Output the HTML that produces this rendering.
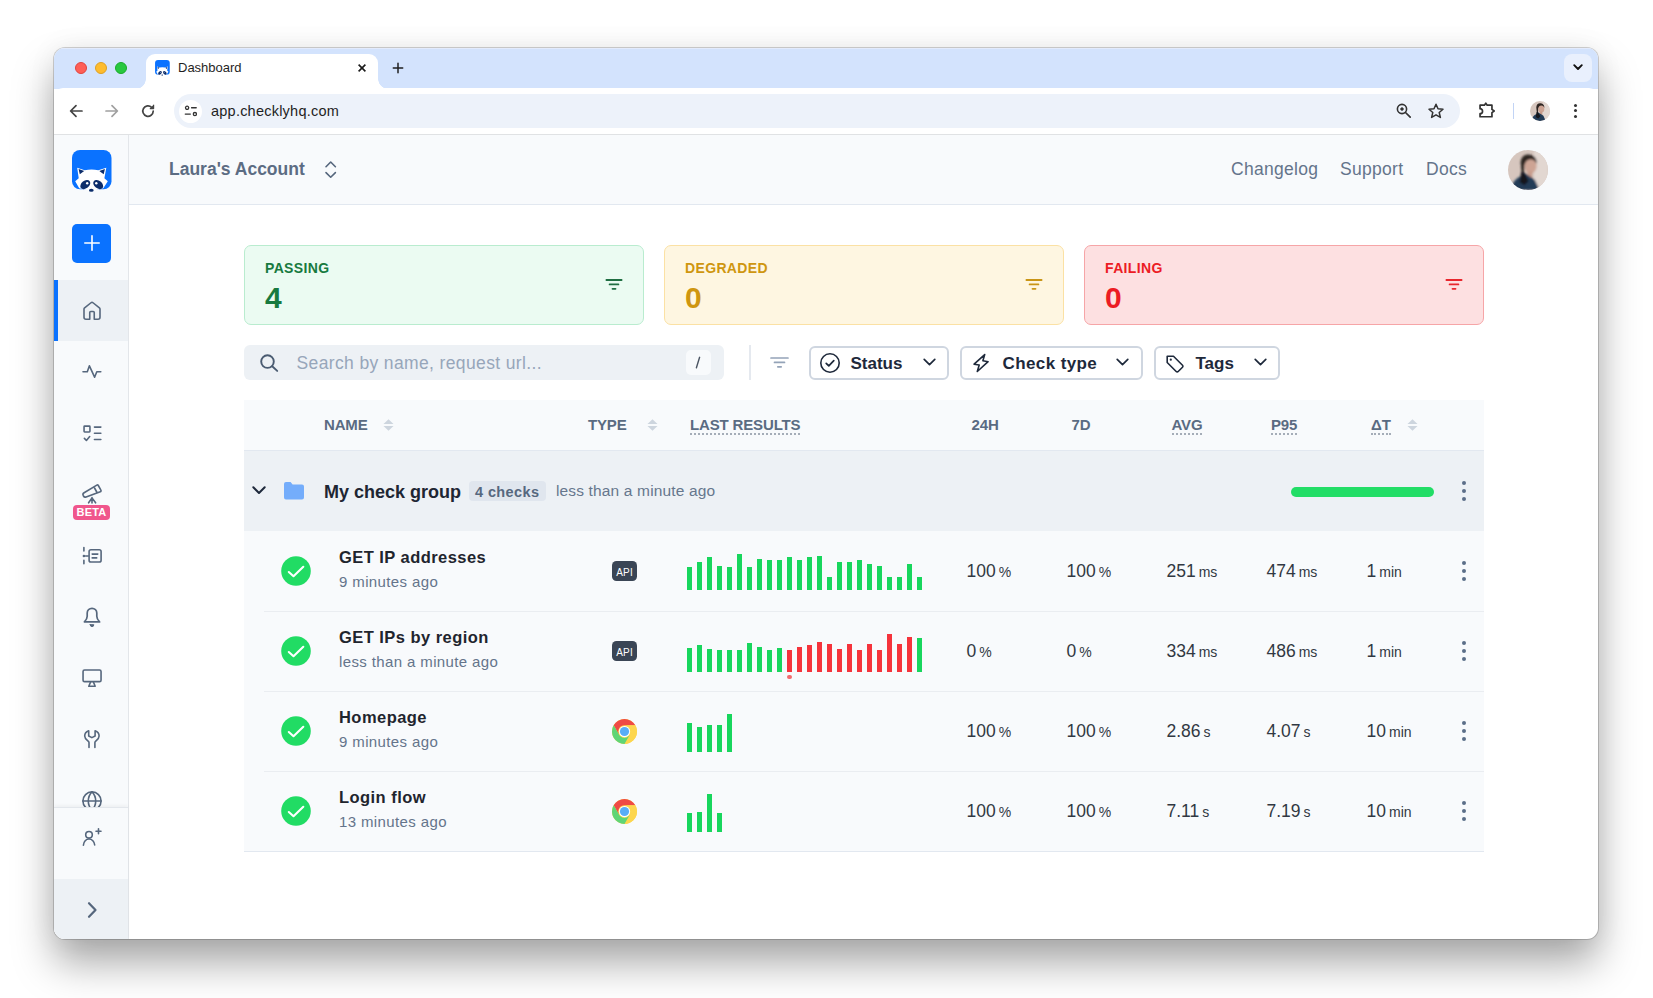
<!DOCTYPE html>
<html><head><meta charset="utf-8"><title>Dashboard</title>
<style>
*{box-sizing:border-box;margin:0;padding:0}
html,body{width:1653px;height:998px;overflow:hidden;background:#fff}
body{position:relative;font-family:"Liberation Sans",Arial,sans-serif;color:#1e293b}
.a{position:absolute}
svg{display:block}
#shadow{position:absolute;left:54px;top:48px;width:1544px;height:891px;border-radius:11px;box-shadow:0 24px 40px rgba(0,0,0,.34),0 0 30px rgba(0,0,0,.06),0 0 0 1px rgba(0,0,0,.17);background:#fff}
#win{position:absolute;left:0;top:0;width:1653px;height:998px;clip-path:inset(48px 55px 59px 54px round 11px)}
/* browser chrome */
#tabbar{left:54px;top:47px;width:1544px;height:42px;background:#d3e3fd}
#tab{left:146px;top:54px;width:232px;height:35px;background:#fff;border-radius:9px 9px 0 0}
#tab:before,#tab:after{content:"";position:absolute;bottom:0;width:10px;height:10px}
#tab:before{left:-10px;background:radial-gradient(circle at 0 0,transparent 9.5px,#fff 10px)}
#tab:after{right:-10px;background:radial-gradient(circle at 100% 0,transparent 9.5px,#fff 10px)}
#toolbar{left:54px;top:88px;width:1544px;height:47px;background:#fff;border-radius:9px 9px 0 0;border-bottom:1px solid #e0e2e4}
#url{left:174px;top:94px;width:1286px;height:34px;border-radius:17px;background:#edf2fa}
.tt{font-size:13px;color:#1f1f1f;white-space:nowrap}
/* app */
#side{left:54px;top:135px;width:75px;height:804px;background:#f8fafc;border-right:1px solid #e3e6ea}
#hdr{left:129px;top:135px;width:1469px;height:70px;background:#f8fafc;border-bottom:1px solid #e2e8f0}
.hl{font-size:17.5px;color:#64748b;white-space:nowrap;letter-spacing:.3px}
.card{width:400px;height:80px;top:245px;border-radius:7px;border:1px solid}
.card .lb{position:absolute;left:20px;top:14px;font-size:14px;font-weight:700;letter-spacing:.35px}
.card .nm{position:absolute;left:20px;top:35px;font-size:30px;font-weight:700}
.card svg{position:absolute;left:359px;top:32px}
.btn{top:345.5px;height:34px;border:2px solid #cfd6e0;border-radius:6px;background:#fff}
.btn .t{position:absolute;top:6px;font-size:17px;font-weight:700;color:#1e293b;white-space:nowrap}
.th{top:415.6px;font-size:15px;font-weight:700;color:#5a6b82;white-space:nowrap;letter-spacing:-.15px}
.dot{border-bottom:2px dotted #a5adb8;padding-bottom:0px}
.row{left:244px;width:1240px;height:80px;background:#f8fafc}
.sep{left:264px;width:1220px;height:1px;background:#eaedf1}
.nmx{font-size:16.5px;font-weight:700;color:#1f252e;white-space:nowrap;letter-spacing:.45px;margin-top:.5px}
.sub{font-size:15px;color:#64748b;white-space:nowrap;letter-spacing:.38px}
.v{font-size:17.5px;color:#313842;white-space:nowrap}
.v small{font-size:14px;margin-left:3px}
.kb{width:4px;height:4px;border-radius:2px;background:#5b6e88}
.bar{position:absolute;width:5px;bottom:0}
.sic{fill:none;stroke:#56677d;stroke-width:1.6;stroke-linecap:round;stroke-linejoin:round}
.g{background:#18d65d}.r{background:#f5333b}
</style></head>
<body>
<svg width="0" height="0" style="position:absolute">
  <defs>
    <filter id="bl" x="-20%" y="-20%" width="140%" height="140%"><feGaussianBlur stdDeviation="0.9"/></filter>
    <clipPath id="avc"><circle cx="20" cy="20" r="20"/></clipPath>
    <g id="av">
      <g clip-path="url(#avc)">
        <rect width="40" height="40" fill="#d6c6be"/>
        <g filter="url(#bl)">
          <rect x="26" y="0" width="14" height="40" fill="#e2d7d1"/>
          <path d="M12.6 13c0-5.5 3.3-8.6 7.6-8.6 4.6 0 8.3 3 8.5 7.6l-.3 1.5-3-3.2-6.5 1.2-2.3 3.5-.6 7.2-2.3 1.5z" fill="#2d2522"/>
          <ellipse cx="22.6" cy="16.2" rx="6" ry="7" fill="#cda494"/>
          <rect x="19.6" y="21" width="4.6" height="6.5" fill="#c79b8a"/>
          <path d="M2.5 40l2.5-6.8c1.8-3 4.5-5.4 7.3-6.6l4-3.8 6 3.9 4.5 3 2.9 6.3 1.3 4z" fill="#223a56"/>
          <path d="M13 22.5l2.6-1 5 9.5-4.2 4.2-4.6-3z" fill="#15171b"/>
        </g>
      </g>
    </g>
    <g id="logo">
    <rect x="0" y="0" width="39.5" height="39.3" rx="8" fill="#0a72ff"/>
    <path d="M5.2 17.7 L12.7 20.2 Q19.5 18.8 26.3 20.2 L34.3 17.7 L32.4 28.3 L35.8 31.3 L31.3 38.3 L22.3 40.3 L19.3 41.8 L16.2 40.3 L7.2 38.3 L3.2 31.3 L6.7 28.3 Z" fill="#fff"/>
    <path d="M6.6 19.1 L12.2 20.9 L7.8 24.3Z M32.9 19.1 L27.3 20.9 L31.7 24.3Z" fill="#0c2d6b"/>
    <ellipse cx="13.3" cy="34.6" rx="5.6" ry="3.8" transform="rotate(-38 13.3 34.6)" fill="#0c2d6b"/>
    <ellipse cx="26.2" cy="34.6" rx="5.6" ry="3.8" transform="rotate(38 26.2 34.6)" fill="#0c2d6b"/>
    <circle cx="15.2" cy="33.3" r="1.2" fill="#fff"/><circle cx="24.3" cy="33.3" r="1.2" fill="#fff"/>
    <ellipse cx="19.3" cy="40.2" rx="2.4" ry="1.5" fill="#0c2d6b"/>
  </g>
    <g id="chr">
      <circle cx="12" cy="12" r="12" fill="#fdd64e"/>
      <path d="M1.608 6A12 12 0 0 1 22.392 6L12 6A6 6 0 0 0 6.804 15Z" fill="#ef4a45"/>
      <path d="M1.608 6A12 12 0 0 1 22.392 6L12 6A6 6 0 0 0 6.804 15Z" fill="#fdd64e" transform="rotate(120 12 12)"/>
      <path d="M1.608 6A12 12 0 0 1 22.392 6L12 6A6 6 0 0 0 6.804 15Z" fill="#5fd576" transform="rotate(240 12 12)"/>
      <circle cx="12" cy="12" r="5.4" fill="#fff"/>
      <circle cx="12" cy="12" r="4.4" fill="#59adf7"/>
    </g>
  </defs>
</svg>
<div id="shadow"></div>
<div id="win">
  <!-- TAB BAR -->
  <div class="a" id="tabbar"></div>
  <div class="a" style="left:54px;top:48px;width:1544px;height:1px;background:#e3ebfd"></div>
  <div class="a" style="left:75px;top:62px;width:12px;height:12px;border-radius:6px;background:#ff5f57;border:.5px solid #e0443e"></div>
  <div class="a" style="left:95px;top:62px;width:12px;height:12px;border-radius:6px;background:#febc2e;border:.5px solid #dea123"></div>
  <div class="a" style="left:115px;top:62px;width:12px;height:12px;border-radius:6px;background:#28c840;border:.5px solid #1aab29"></div>
  <div class="a" id="tab"></div>
  <div class="a tt" style="left:178px;top:60px">Dashboard</div>
  <div class="a" style="left:1564px;top:54px;width:28px;height:28px;border-radius:8px;background:#e9f0fd"></div>
  <!-- TOOLBAR -->
  <div class="a" id="toolbar"></div>
  <div class="a" id="url"></div>
  <div class="a" style="left:179px;top:99.5px;width:23px;height:23px;border-radius:12px;background:#fff"></div>
  <div class="a" style="left:211px;top:102.7px;font-size:14.5px;color:#1f1f1f;white-space:nowrap;letter-spacing:.23px">app.checklyhq.com</div>

  <!-- SIDEBAR -->
  <div class="a" id="side"></div>
  <!-- HEADER -->
  <div class="a" id="hdr"></div>
  <div class="a" style="left:169px;top:159px;font-size:17.5px;font-weight:700;color:#5c6c83;white-space:nowrap">Laura's Account</div>
  <div class="a hl" style="left:1231px;top:159px">Changelog</div>
  <div class="a hl" style="left:1340px;top:159px">Support</div>
  <div class="a hl" style="left:1426px;top:159px">Docs</div>

  <!-- CARDS -->
  <div class="a card" style="left:244px;background:#ebfbf2;border-color:#b9eccf">
    <div class="lb" style="color:#177a3f">PASSING</div>
    <div class="nm" style="color:#177a3f">4</div>
  </div>
  <div class="a card" style="left:664px;background:#fef6e1;border-color:#fbe1a4">
    <div class="lb" style="color:#cf9610">DEGRADED</div>
    <div class="nm" style="color:#cf9610">0</div>
  </div>
  <div class="a card" style="left:1084px;background:#fde0e1;border-color:#f6a5a7">
    <div class="lb" style="color:#ec1c24">FAILING</div>
    <div class="nm" style="color:#ec1c24">0</div>
  </div>

  <!-- SEARCH ROW -->
  <div class="a" style="left:244px;top:345px;width:480px;height:35px;border-radius:6px;background:#edf1f5"></div>
  <div class="a" style="left:296.5px;top:353px;font-size:17.5px;color:#97a6ba;white-space:nowrap;letter-spacing:.37px">Search by name, request url...</div>
  <div class="a" style="left:686px;top:350px;width:25px;height:25px;border-radius:5px;background:#f8fafc"></div>
  <div class="a" style="left:749px;top:345px;width:2px;height:35px;background:#e5e9ef"></div>
  <div class="a btn" style="left:808.5px;width:140px"><div class="t" style="left:40px">Status</div></div>
  <div class="a btn" style="left:959.5px;width:183px"><div class="t" style="left:41px;letter-spacing:.4px">Check type</div></div>
  <div class="a btn" style="left:1153.5px;width:126px"><div class="t" style="left:40px">Tags</div></div>

  <!-- TABLE HEADER -->
  <div class="a" style="left:244px;top:400px;width:1240px;height:51px;background:#f8fafc;border-bottom:1px solid #e2e8f0"></div>
  <div class="a th" style="left:324px">NAME</div>
  <div class="a th" style="left:588px">TYPE</div>
  <div class="a th" style="left:690px"><span class="dot">LAST RESULTS</span></div>
  <div class="a th" style="left:971.5px">24H</div>
  <div class="a th" style="left:1071.5px">7D</div>
  <div class="a th" style="left:1171.5px"><span class="dot">AVG</span></div>
  <div class="a th" style="left:1271px"><span class="dot">P95</span></div>
  <div class="a th" style="left:1371px"><span class="dot">ΔT</span></div>

  <!-- GROUP ROW -->
  <div class="a" style="left:244px;top:451px;width:1240px;height:80px;background:#edf1f5"></div>
  <div class="a" style="left:324px;top:482px;font-size:18px;font-weight:700;color:#1e2633;white-space:nowrap">My check group</div>
  <div class="a" style="left:469px;top:481px;width:77px;height:20px;border-radius:4px;background:#e0e6ee"></div>
  <div class="a" style="left:475px;top:484px;font-size:14.5px;font-weight:700;color:#56687f;white-space:nowrap;letter-spacing:.4px">4 checks</div>
  <div class="a" style="left:556px;top:482px;font-size:15.5px;color:#66778d;white-space:nowrap;letter-spacing:.15px">less than a minute ago</div>
  <div class="a" style="left:1291px;top:487px;width:143px;height:10px;border-radius:5px;background:#22dd66"></div>

  <!-- ROWS -->
  <div class="a row" style="top:531px"></div>
  <div class="a row" style="top:611px"></div>
  <div class="a row" style="top:691px"></div>
  <div class="a row" style="top:771px"></div>
  <div class="a sep" style="top:611px"></div>
  <div class="a sep" style="top:691px"></div>
  <div class="a sep" style="top:771px"></div>
  <div class="a" style="left:244px;top:851px;width:1240px;height:1px;background:#e2e8f0"></div>

  <div class="a nmx" style="left:339px;top:547px">GET IP addresses</div>
  <div class="a sub" style="left:339px;top:573px">9 minutes ago</div>
  <div class="a nmx" style="left:339px;top:627px">GET IPs by region</div>
  <div class="a sub" style="left:339px;top:653px">less than a minute ago</div>
  <div class="a nmx" style="left:339px;top:707px">Homepage</div>
  <div class="a sub" style="left:339px;top:733px">9 minutes ago</div>
  <div class="a nmx" style="left:339px;top:787px">Login flow</div>
  <div class="a sub" style="left:339px;top:813px">13 minutes ago</div>

  <div class="a v" style="left:966.5px;top:561px">100<small>%</small></div>
  <div class="a v" style="left:1066.5px;top:561px">100<small>%</small></div>
  <div class="a v" style="left:1166.5px;top:561px">251<small>ms</small></div>
  <div class="a v" style="left:1266.5px;top:561px">474<small>ms</small></div>
  <div class="a v" style="left:1366.5px;top:561px">1<small>min</small></div>

  <div class="a v" style="left:966.5px;top:641px">0<small>%</small></div>
  <div class="a v" style="left:1066.5px;top:641px">0<small>%</small></div>
  <div class="a v" style="left:1166.5px;top:641px">334<small>ms</small></div>
  <div class="a v" style="left:1266.5px;top:641px">486<small>ms</small></div>
  <div class="a v" style="left:1366.5px;top:641px">1<small>min</small></div>

  <div class="a v" style="left:966.5px;top:721px">100<small>%</small></div>
  <div class="a v" style="left:1066.5px;top:721px">100<small>%</small></div>
  <div class="a v" style="left:1166.5px;top:721px">2.86<small>s</small></div>
  <div class="a v" style="left:1266.5px;top:721px">4.07<small>s</small></div>
  <div class="a v" style="left:1366.5px;top:721px">10<small>min</small></div>

  <div class="a v" style="left:966.5px;top:801px">100<small>%</small></div>
  <div class="a v" style="left:1066.5px;top:801px">100<small>%</small></div>
  <div class="a v" style="left:1166.5px;top:801px">7.11<small>s</small></div>
  <div class="a v" style="left:1266.5px;top:801px">7.19<small>s</small></div>
  <div class="a v" style="left:1366.5px;top:801px">10<small>min</small></div>
  <!-- tab favicon -->
  <svg class="a" style="left:154.5px;top:60px" width="15" height="16" viewBox="0 0 40 43"><use href="#logo"/></svg>
  <!-- tab close -->
  <svg class="a" style="left:356px;top:61.8px" width="12" height="12" viewBox="0 0 12 12"><path d="M2.6 2.6L9.4 9.4M9.4 2.6L2.6 9.4" stroke="#1a1a1a" stroke-width="1.6"/></svg>
  <!-- new tab -->
  <svg class="a" style="left:391px;top:60.5px" width="14" height="14" viewBox="0 0 14 14"><path d="M7 2.3V11.7M2.3 7H11.7" stroke="#1f1f1f" stroke-width="1.5" stroke-linecap="round"/></svg>
  <!-- tab list chevron -->
  <svg class="a" style="left:1572px;top:62px" width="12" height="10" viewBox="0 0 12 10"><path d="M2.2 3.2l3.8 3.8 3.8-3.8" stroke="#111" stroke-width="1.9" fill="none" stroke-linecap="round" stroke-linejoin="round"/></svg>
  <!-- back / fwd / reload -->
  <svg class="a" style="left:68px;top:103px" width="16" height="16" viewBox="0 0 16 16"><path d="M14 8H2.8M8 2.6L2.6 8 8 13.4" stroke="#444" stroke-width="1.7" fill="none" stroke-linecap="round" stroke-linejoin="round"/></svg>
  <svg class="a" style="left:104px;top:103px" width="16" height="16" viewBox="0 0 16 16"><path d="M2 8H13.2M8 2.6L13.4 8 8 13.4" stroke="#a0a0a0" stroke-width="1.7" fill="none" stroke-linecap="round" stroke-linejoin="round"/></svg>
  <svg class="a" style="left:140px;top:103px" width="16" height="16" viewBox="0 0 16 16"><path d="M13.2 8.2A5.2 5.2 0 1 1 11.6 4.3" stroke="#444" stroke-width="1.7" fill="none" stroke-linecap="round"/><path d="M13.6 1.8V5.6H9.8" fill="#444" stroke="#444" stroke-width="1.2" stroke-linejoin="round"/></svg>
  <!-- tune icon -->
  <svg class="a" style="left:183px;top:104px" width="16" height="15" viewBox="0 0 16 15"><circle cx="4.1" cy="3.8" r="1.6" stroke="#333" stroke-width="1.3" fill="none"/><path d="M8.6 3.8H13.2M2.3 10.1H7.3" stroke="#333" stroke-width="1.4" stroke-linecap="round"/><circle cx="11.9" cy="10.1" r="1.6" stroke="#333" stroke-width="1.3" fill="none"/></svg>
  <!-- zoom -->
  <svg class="a" style="left:1395px;top:102px" width="18" height="18" viewBox="0 0 18 18"><circle cx="7" cy="7" r="4.6" stroke="#333" stroke-width="1.6" fill="none"/><path d="M10.5 10.5L15.2 15.2" stroke="#333" stroke-width="1.7" stroke-linecap="round"/><circle cx="7" cy="7" r="1.5" fill="#333"/><path d="M7 5.2V8.8M5.2 7H8.8" stroke="#333" stroke-width="1"/></svg>
  <!-- star -->
  <svg class="a" style="left:1427px;top:102px" width="18" height="18" viewBox="0 0 18 18"><path d="M9 2.2l2 4.6 5 .4-3.8 3.3 1.2 4.9L9 12.8l-4.4 2.6 1.2-4.9L2 7.2l5-.4z" stroke="#333" stroke-width="1.5" fill="none" stroke-linejoin="round"/></svg>
  <!-- puzzle -->
  <svg class="a" style="left:1477px;top:100px" width="20" height="20" viewBox="0 0 20 20"><path d="M3.05 5.15H7.4L8.8 3.2 10.2 5.15H14.95V9.4L17.2 11 14.95 12.6V16.75H3.05V13.7A2.5 2.5 0 0 0 3.05 8.7Z" stroke="#333" stroke-width="1.7" fill="none" stroke-linejoin="round"/></svg>
  <div class="a" style="left:1512.5px;top:103px;width:1.5px;height:16px;background:#c2d4f5"></div>
  <!-- profile small -->
  <svg class="a" style="left:1530px;top:101px" width="20" height="20" viewBox="0 0 40 40"><use href="#av"/></svg>
  <!-- menu dots -->
  <div class="a" style="left:1574px;top:103.5px;width:3.2px;height:3.2px;border-radius:50%;background:#333"></div>
  <div class="a" style="left:1574px;top:109.2px;width:3.2px;height:3.2px;border-radius:50%;background:#333"></div>
  <div class="a" style="left:1574px;top:114.9px;width:3.2px;height:3.2px;border-radius:50%;background:#333"></div>

  <!-- SIDEBAR ICONS -->
  <svg class="a" style="left:71.8px;top:149.8px" width="40" height="43" viewBox="0 0 40 43"><use href="#logo"/></svg>
  <div class="a" style="left:72px;top:223.5px;width:39px;height:39px;border-radius:5px;background:#0a72ff"></div>
  <svg class="a" style="left:82.5px;top:234px" width="18" height="18" viewBox="0 0 18 18"><path d="M9 1.8V16.2M1.8 9H16.2" stroke="#fff" stroke-width="1.6" stroke-linecap="round"/></svg>
  <div class="a" style="left:54px;top:280px;width:74px;height:61px;background:#edf1f5"></div>
  <div class="a" style="left:54px;top:280px;width:4px;height:61px;background:#0a72ff"></div>
  <svg class="a sic" style="left:80px;top:298.6px" width="24" height="24" viewBox="0 0 24 24"><path d="M9.75 20.25H6a2 2 0 0 1-2-2V10.2a1.6 1.6 0 0 1 .6-1.25l6.4-5.2a1.6 1.6 0 0 1 2 0l6.4 5.2a1.6 1.6 0 0 1 .6 1.25v8.05a2 2 0 0 1-2 2H14.25V13.5a1 1 0 0 0-1-1h-2.5a1 1 0 0 0-1 1z"/></svg>
  <svg class="a sic" style="left:80px;top:360px" width="24" height="24" viewBox="0 0 24 24"><path d="M3 11.8h4.3l2.1-6 5.2 11.4 2.2-5.4h4"/></svg>
  <svg class="a sic" style="left:80px;top:421px" width="24" height="24" viewBox="0 0 24 24"><rect x="4.05" y="5.15" width="5.9" height="5.8" rx=".6"/><path d="M14.45 6.1h6.4M14.45 12.3h6.4M14.45 18.5h6.4M4.4 17.4l2 2.1 3.3-4"/></svg>
  <svg class="a sic" style="left:80px;top:481.5px" width="24" height="24" viewBox="0 0 24 24"><path d="M8.6 20.8L12 15.9 15.6 20.8M12 15.6v5.4M3.3 13.7l.2.3c.5.9 1.6 1.3 2.6.9l14.2-5.2a1 1 0 0 0 .6-1.5l-2.6-4.7a1.1 1.1 0 0 0-1.5-.4L4.1 10.8c-1 .6-1.4 1.9-.8 2.9zM14 5l3 5.5"/></svg>
  <div class="a" style="left:73px;top:505px;width:37px;height:15px;border-radius:4px;background:#f0568c"></div>
  <div class="a" style="left:73px;top:506px;width:37px;text-align:center;font-size:11px;font-weight:700;color:#fff;letter-spacing:.2px">BETA</div>
  <svg class="a sic" style="left:80px;top:544px" width="24" height="24" viewBox="0 0 24 24"><path d="M3.9 3.5v3.5M3.9 16.3v3.5M5.6 12H8.3"/><circle cx="3.9" cy="12" r="1.3" fill="#56677d" stroke="none"/><rect x="9.1" y="5.8" width="12" height="12.2" rx="1.8"/><path d="M12.2 10.1h5.6M12.2 13.9h4.5"/></svg>
  <svg class="a sic" style="left:80px;top:605px" width="24" height="24" viewBox="0 0 24 24"><path d="M4.4 16.9H19.6C18.1 15.5 16.8 13.9 16.8 11.3V8.1A4.8 4.8 0 0 0 7.2 8.1V11.3C7.2 13.9 5.9 15.5 4.4 16.9Z" stroke-width="1.7"/><path d="M10.2 19.7h3.6a1.8 1.9 0 0 1-3.6 0z" fill="#56677d" stroke-width="1"/></svg>
  <svg class="a sic" style="left:80px;top:666px" width="24" height="24" viewBox="0 0 24 24"><rect x="3.05" y="4.05" width="18" height="11.6" rx="1.5"/><path d="M10.7 15.8L8.8 20.2H15.2L13.3 15.8"/></svg>
  <svg class="a sic" style="left:80px;top:728px" width="24" height="24" viewBox="0 0 24 24"><path d="M9 19.5v-5.1c0-1.4-4.3-2.9-4.3-6.4 0-2.5 1.8-4.5 4-5.3V8l3.2 1.6L15.1 8V2.7c2.2.8 4 2.8 4 5.3 0 3.5-4.2 5-4.2 6.4v5.1"/></svg>
  <svg class="a sic" style="left:80px;top:789px" width="24" height="24" viewBox="0 0 24 24"><circle cx="12" cy="12" r="9.1"/><path d="M12 2.9a13 13 0 0 0 0 18.2 13 13 0 0 0 0-18.2M2.9 12h18.2"/></svg>
  <div class="a" style="left:54px;top:807px;width:74px;height:132px;background:#f8fafc;border-top:1px solid #e3e7ec;box-shadow:0 -2px 3px rgba(0,0,0,.04)"></div>
  <svg class="a sic" style="left:80px;top:826px" width="24" height="24" viewBox="0 0 24 24"><circle cx="9" cy="8.8" r="3.3"/><path d="M3.4 19.2c.2-3.6 2.7-6.2 5.6-6.2s5.5 2.6 5.7 6"/><path d="M18.5 2.8v5M16 5.3h5"/></svg>
  <div class="a" style="left:54px;top:879px;width:74px;height:60px;background:#edf1f5"></div>
  <svg class="a" style="left:84px;top:901px" width="16" height="18" viewBox="0 0 16 18"><path d="M5 2.2l6.5 6.8L5 15.8" stroke="#56677d" stroke-width="2.2" fill="none" stroke-linecap="round" stroke-linejoin="round"/></svg>

  <!-- HEADER ICONS -->
  <svg class="a" style="left:321px;top:159px" width="20" height="22" viewBox="0 0 20 22"><path d="M5 7.7l4.7-4.7 4.7 4.7M5 13.6l4.7 4.6 4.7-4.6" stroke="#56677d" stroke-width="1.6" fill="none" stroke-linecap="round" stroke-linejoin="round"/></svg>
  <svg class="a" style="left:1508px;top:150px" width="40" height="40" viewBox="0 0 40 40"><use href="#av"/></svg>

  <!-- CARD FILTER ICONS -->
  <svg class="a" style="left:604px;top:278px" width="20" height="13" viewBox="0 0 20 13"><path d="M2.4 2h15.2M5.6 6.4h8.8M8.5 10.8h3" stroke="#1f6e42" stroke-width="1.8" stroke-linecap="round"/></svg>
  <svg class="a" style="left:1024px;top:278px" width="20" height="13" viewBox="0 0 20 13"><path d="M2.4 2h15.2M5.6 6.4h8.8M8.5 10.8h3" stroke="#c99516" stroke-width="1.8" stroke-linecap="round"/></svg>
  <svg class="a" style="left:1444px;top:278px" width="20" height="13" viewBox="0 0 20 13"><path d="M2.4 2h15.2M5.6 6.4h8.8M8.5 10.8h3" stroke="#e8262d" stroke-width="1.8" stroke-linecap="round"/></svg>
  <!-- SEARCH -->
  <svg class="a" style="left:258px;top:352px" width="22" height="22" viewBox="0 0 22 22"><circle cx="9.5" cy="9.6" r="6.3" stroke="#4a5b71" stroke-width="1.9" fill="none"/><path d="M14.2 14.3l5 4.6" stroke="#4a5b71" stroke-width="1.9" stroke-linecap="round"/></svg>
  <svg class="a" style="left:692px;top:355px" width="12" height="15" viewBox="0 0 12 15"><path d="M7.6 2.3L4.4 12.8" stroke="#4b5563" stroke-width="1.4" stroke-linecap="round"/></svg>
  <svg class="a" style="left:769px;top:355px" width="21" height="14" viewBox="0 0 21 14"><path d="M2 3h17M5.5 7.4h10M8.8 11.8h3.4" stroke="#94a3b8" stroke-width="1.7" stroke-linecap="round"/></svg>
  <!-- BUTTON ICONS -->
  <svg class="a" style="left:819px;top:352px" width="22" height="22" viewBox="0 0 22 22"><circle cx="11" cy="11" r="9.2" stroke="#1e293b" stroke-width="1.6" fill="none"/><path d="M7.2 11.3l2.6 2.6 5-5.2" stroke="#1e293b" stroke-width="1.7" fill="none" stroke-linecap="round" stroke-linejoin="round"/></svg>
  <svg class="a" style="left:922px;top:356px" width="15" height="12" viewBox="0 0 15 12"><path d="M2.2 3.3l5.3 5.3 5.3-5.3" stroke="#1e293b" stroke-width="1.7" fill="none" stroke-linecap="round" stroke-linejoin="round"/></svg>
  <svg class="a" style="left:971px;top:352px" width="20" height="22" viewBox="0 0 20 22"><path d="M13.7 2.6L3.1 12.2 8.2 13 6.3 19.5 17.1 9.7 11.9 8.7Z" stroke="#1e293b" stroke-width="1.6" fill="none" stroke-linejoin="round"/></svg>
  <svg class="a" style="left:1115px;top:356px" width="15" height="12" viewBox="0 0 15 12"><path d="M2.2 3.3l5.3 5.3 5.3-5.3" stroke="#1e293b" stroke-width="1.7" fill="none" stroke-linecap="round" stroke-linejoin="round"/></svg>
  <svg class="a" style="left:1164px;top:353px" width="22" height="22" viewBox="0 0 22 22"><path d="M3.3 3.2h6.2l9 9a1.4 1.4 0 0 1 0 2l-4.3 4.3a1.4 1.4 0 0 1-2 0l-9-9V3.3z" stroke="#1e293b" stroke-width="1.6" fill="none" stroke-linejoin="round"/><circle cx="6.8" cy="6.7" r="1.1" fill="#1e293b"/></svg>
  <svg class="a" style="left:1253px;top:356px" width="15" height="12" viewBox="0 0 15 12"><path d="M2.2 3.3l5.3 5.3 5.3-5.3" stroke="#1e293b" stroke-width="1.7" fill="none" stroke-linecap="round" stroke-linejoin="round"/></svg>
  <!-- SORT ICONS -->
  <svg class="a" style="left:382.5px;top:419px" width="11" height="12" viewBox="0 0 11 12"><path d="M5.5 0.3L10.5 5H0.5zM5.5 11.7L10.5 7H0.5z" fill="#cdd5de"/></svg>
  <svg class="a" style="left:646.5px;top:419px" width="11" height="12" viewBox="0 0 11 12"><path d="M5.5 0.3L10.5 5H0.5zM5.5 11.7L10.5 7H0.5z" fill="#cdd5de"/></svg>
  <svg class="a" style="left:1407px;top:419px" width="11" height="12" viewBox="0 0 11 12"><path d="M5.5 0.3L10.5 5H0.5zM5.5 11.7L10.5 7H0.5z" fill="#cdd5de"/></svg>
  <!-- GROUP ROW ICONS -->
  <svg class="a" style="left:250px;top:483px" width="18" height="14" viewBox="0 0 18 14"><path d="M3.3 4.3l5.7 5.7 5.7-5.7" stroke="#1e293b" stroke-width="2" fill="none" stroke-linecap="round" stroke-linejoin="round"/></svg>
  <svg class="a" style="left:284px;top:482px" width="20" height="18" viewBox="0 0 20 18"><path d="M0 2a2 2 0 0 1 2-2h4.6l2 2.4H18a2 2 0 0 1 2 2V15.6a2 2 0 0 1-2 2H2a2 2 0 0 1-2-2z" fill="#74adfb"/></svg>
  <div class="a kb" style="left:1462px;top:481px"></div>
  <div class="a kb" style="left:1462px;top:489px"></div>
  <div class="a kb" style="left:1462px;top:497.2px"></div>

  <svg class="a" style="left:281px;top:556px" width="30" height="30" viewBox="0 0 30 30"><circle cx="15" cy="15" r="14.8" fill="#21dc64"/><path d="M7.8 16l4.7 4.2 9.8-9.4" stroke="#fff" stroke-width="2.1" fill="none" stroke-linecap="round" stroke-linejoin="round"/></svg>
  <div class="a" style="left:612px;top:561px;width:25px;height:20px;border-radius:4.5px;background:#3a4555;color:#fff;font-size:10px;line-height:23px;text-align:center;letter-spacing:.2px">API</div>
  <div class="a kb" style="left:1462px;top:561px"></div>
  <div class="a kb" style="left:1462px;top:569px"></div>
  <div class="a kb" style="left:1462px;top:577.2px"></div>
  <svg class="a" style="left:281px;top:636px" width="30" height="30" viewBox="0 0 30 30"><circle cx="15" cy="15" r="14.8" fill="#21dc64"/><path d="M7.8 16l4.7 4.2 9.8-9.4" stroke="#fff" stroke-width="2.1" fill="none" stroke-linecap="round" stroke-linejoin="round"/></svg>
  <div class="a" style="left:612px;top:641px;width:25px;height:20px;border-radius:4.5px;background:#3a4555;color:#fff;font-size:10px;line-height:23px;text-align:center;letter-spacing:.2px">API</div>
  <div class="a kb" style="left:1462px;top:641px"></div>
  <div class="a kb" style="left:1462px;top:649px"></div>
  <div class="a kb" style="left:1462px;top:657.2px"></div>
  <svg class="a" style="left:281px;top:716px" width="30" height="30" viewBox="0 0 30 30"><circle cx="15" cy="15" r="14.8" fill="#21dc64"/><path d="M7.8 16l4.7 4.2 9.8-9.4" stroke="#fff" stroke-width="2.1" fill="none" stroke-linecap="round" stroke-linejoin="round"/></svg>
  <svg class="a" style="left:611.8px;top:718.8px" width="25" height="25" viewBox="0 0 24 24"><use href="#chr"/></svg>
  <div class="a kb" style="left:1462px;top:721px"></div>
  <div class="a kb" style="left:1462px;top:729px"></div>
  <div class="a kb" style="left:1462px;top:737.2px"></div>
  <svg class="a" style="left:281px;top:796px" width="30" height="30" viewBox="0 0 30 30"><circle cx="15" cy="15" r="14.8" fill="#21dc64"/><path d="M7.8 16l4.7 4.2 9.8-9.4" stroke="#fff" stroke-width="2.1" fill="none" stroke-linecap="round" stroke-linejoin="round"/></svg>
  <svg class="a" style="left:611.8px;top:798.8px" width="25" height="25" viewBox="0 0 24 24"><use href="#chr"/></svg>
  <div class="a kb" style="left:1462px;top:801px"></div>
  <div class="a kb" style="left:1462px;top:809px"></div>
  <div class="a kb" style="left:1462px;top:817.2px"></div>
  <div class="a bar g" style="left:687px;top:567.4px;height:23.1px"></div>
  <div class="a bar g" style="left:697px;top:562.2px;height:28.3px"></div>
  <div class="a bar g" style="left:707px;top:557.2px;height:33.3px"></div>
  <div class="a bar g" style="left:717px;top:566.3px;height:24.2px"></div>
  <div class="a bar g" style="left:727px;top:567.4px;height:23.1px"></div>
  <div class="a bar g" style="left:737px;top:554.2px;height:36.3px"></div>
  <div class="a bar g" style="left:747px;top:567.4px;height:23.1px"></div>
  <div class="a bar g" style="left:757px;top:559.2px;height:31.3px"></div>
  <div class="a bar g" style="left:767px;top:560.3px;height:30.2px"></div>
  <div class="a bar g" style="left:777px;top:560.3px;height:30.2px"></div>
  <div class="a bar g" style="left:787px;top:557.2px;height:33.3px"></div>
  <div class="a bar g" style="left:797px;top:560.3px;height:30.2px"></div>
  <div class="a bar g" style="left:807px;top:557.2px;height:33.3px"></div>
  <div class="a bar g" style="left:817px;top:556.2px;height:34.3px"></div>
  <div class="a bar g" style="left:827px;top:577.3px;height:13.2px"></div>
  <div class="a bar g" style="left:837px;top:562.2px;height:28.3px"></div>
  <div class="a bar g" style="left:847px;top:562.2px;height:28.3px"></div>
  <div class="a bar g" style="left:857px;top:560.3px;height:30.2px"></div>
  <div class="a bar g" style="left:867px;top:564.3px;height:26.2px"></div>
  <div class="a bar g" style="left:877px;top:566.3px;height:24.2px"></div>
  <div class="a bar g" style="left:887px;top:577.3px;height:13.2px"></div>
  <div class="a bar g" style="left:897px;top:577.3px;height:13.2px"></div>
  <div class="a bar g" style="left:907px;top:564.3px;height:26.2px"></div>
  <div class="a bar g" style="left:917px;top:577.3px;height:13.2px"></div>
  <div class="a bar g" style="left:687px;top:648.0px;height:23.9px"></div>
  <div class="a bar g" style="left:697px;top:645.1px;height:26.8px"></div>
  <div class="a bar g" style="left:707px;top:649.2px;height:22.7px"></div>
  <div class="a bar g" style="left:717px;top:650.0px;height:21.9px"></div>
  <div class="a bar g" style="left:727px;top:650.0px;height:21.9px"></div>
  <div class="a bar g" style="left:737px;top:650.0px;height:21.9px"></div>
  <div class="a bar g" style="left:747px;top:643.2px;height:28.7px"></div>
  <div class="a bar g" style="left:757px;top:647.2px;height:24.7px"></div>
  <div class="a bar g" style="left:767px;top:650.0px;height:21.9px"></div>
  <div class="a bar g" style="left:777px;top:648.0px;height:23.9px"></div>
  <div class="a bar r" style="left:787px;top:650.0px;height:21.9px"></div>
  <div class="a bar r" style="left:797px;top:647.2px;height:24.7px"></div>
  <div class="a bar r" style="left:807px;top:645.1px;height:26.8px"></div>
  <div class="a bar r" style="left:817px;top:642.1px;height:29.8px"></div>
  <div class="a bar r" style="left:827px;top:644.2px;height:27.7px"></div>
  <div class="a bar r" style="left:837px;top:649.2px;height:22.7px"></div>
  <div class="a bar r" style="left:847px;top:644.2px;height:27.7px"></div>
  <div class="a bar r" style="left:857px;top:650.0px;height:21.9px"></div>
  <div class="a bar r" style="left:867px;top:644.2px;height:27.7px"></div>
  <div class="a bar r" style="left:877px;top:650.0px;height:21.9px"></div>
  <div class="a bar r" style="left:887px;top:634.1px;height:37.8px"></div>
  <div class="a bar r" style="left:897px;top:644.2px;height:27.7px"></div>
  <div class="a bar r" style="left:907px;top:637.1px;height:34.8px"></div>
  <div class="a bar g" style="left:917px;top:638.2px;height:33.7px"></div>
  <div class="a" style="left:787.2px;top:674.5px;width:4.6px;height:4.6px;border-radius:50%;background:#f36a6e"></div>
  <div class="a bar g" style="left:687px;top:723.1px;height:28.8px"></div>
  <div class="a bar g" style="left:697px;top:727.4px;height:24.5px"></div>
  <div class="a bar g" style="left:707px;top:725.2px;height:26.7px"></div>
  <div class="a bar g" style="left:717px;top:725.2px;height:26.7px"></div>
  <div class="a bar g" style="left:727px;top:714.0px;height:37.9px"></div>
  <div class="a bar g" style="left:687px;top:812.9px;height:18.9px"></div>
  <div class="a bar g" style="left:697px;top:811.9px;height:19.9px"></div>
  <div class="a bar g" style="left:707px;top:794.0px;height:37.8px"></div>
  <div class="a bar g" style="left:717px;top:812.9px;height:18.9px"></div>
</div>
</body></html>
